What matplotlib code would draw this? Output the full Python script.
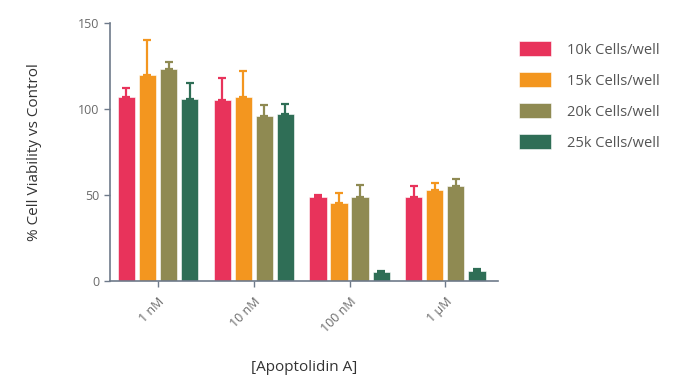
import matplotlib
matplotlib.use("Agg")
import matplotlib.pyplot as plt
import numpy as np

concentrations = ["1 nM", "10 nM", "100 nM", "1 \u00b5M"]
series_names = ["10k Cells/well", "15k Cells/well", "20k Cells/well", "25k Cells/well"]
colors = ["#E8335B", "#F3961F", "#8F8A52", "#2F6E56"]

# mean viability per series, one value per concentration
means = [
    [107, 105, 49, 49],
    [120, 107, 45, 53],
    [123, 96, 49, 55],
    [106, 97, 5, 6],
]
# upper error (SD) per series
errors = [
    [5, 13, 1, 6],
    [20, 15, 6, 4],
    [4, 6, 7, 4],
    [9, 6, 1, 1],
]

axis_color = "#6E7A8A"
text_color = "#6A6A6A"

plt.rcParams['font.family'] = ['Open Sans', 'DejaVu Sans']

fig = plt.figure(figsize=(6.84, 3.89), dpi=100)
ax = fig.add_axes([0.161, 0.278, 0.567, 0.663])

x = np.arange(len(concentrations))
width = 0.18
offsets = [-0.33, -0.11, 0.11, 0.33]
for i in range(len(series_names)):
    ax.bar(x + offsets[i], means[i], width, color=colors[i], label=series_names[i],
           edgecolor="white", linewidth=0.4, zorder=2)
    ax.errorbar(x + offsets[i], means[i], yerr=[np.zeros(4), errors[i]], fmt="none",
                ecolor=colors[i], elinewidth=1.6, capsize=3, capthick=1.6, zorder=3)

ax.set_xlim(-0.5, 3.55)
ax.set_ylim(0, 150)
ax.set_yticks([0, 50, 100, 150])
ax.set_xticks(x)
ax.set_xticklabels(concentrations, rotation=45, ha="right", rotation_mode="anchor")

for s in ["top", "right"]:
    ax.spines[s].set_visible(False)
for s in ["left", "bottom"]:
    ax.spines[s].set_color(axis_color)
    ax.spines[s].set_linewidth(1.2)
ax.tick_params(colors=axis_color, labelcolor=text_color, labelsize=9, length=4, width=1)
ax.tick_params(axis="x", pad=6)

ax.set_ylabel("% Cell Viability vs Control", fontsize=11, color="#333333", labelpad=26)
ax.set_xlabel("[Apoptolidin A]", fontsize=11, color="#333333", labelpad=18)

leg = ax.legend(loc="upper left", bbox_to_anchor=(1.02, 0.98), frameon=False,
                fontsize=10.5, handlelength=2.2, handleheight=1.2, labelspacing=1.0,
                handletextpad=1.1)
for t in leg.get_texts():
    t.set_color("#555555")

fig.savefig("out.png", dpi=100)
